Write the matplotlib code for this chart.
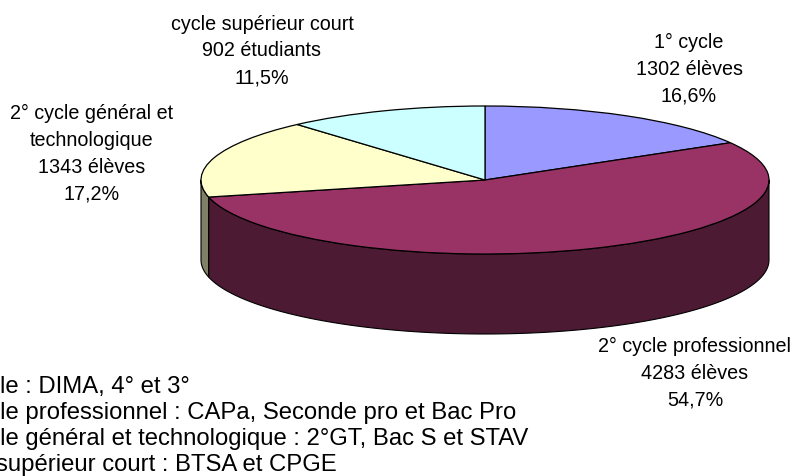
import numpy as np
import matplotlib
matplotlib.use("Agg")
import matplotlib.pyplot as plt

plt.rcParams['font.family'] = ['Liberation Sans', 'DejaVu Sans']

# Data
categories = ["1° cycle", "2° cycle professionnel", "2° cycle général et\ntechnologique", "cycle supérieur court"]
counts = ["1302 élèves", "4283 élèves", "1343 élèves", "902 étudiants"]
shares = [16.6, 54.7, 17.2, 11.5]
share_labels = ["16,6%", "54,7%", "17,2%", "11,5%"]
top_colors = ["#9999FF", "#993366", "#FFFFCC", "#CCFFFF"]
side_colors = ["#4C4C80", "#4C1A33", "#808066", "#668080"]
notes = ["1° cycle : DIMA, 4° et 3°",
         "2° cycle professionnel : CAPa, Seconde pro et Bac Pro",
         "2° cycle général et technologique : 2°GT, Bac S et STAV",
         "cycle supérieur court : BTSA et CPGE"]

W, H = 796, 476
fig = plt.figure(figsize=(W/100, H/100), dpi=100)

# Pie axes spans the ellipse of the top face (pixel box)
cx, cy, a, b = 485, 180, 284, 74
depth = 2 * 80 / (2 * b)   # wall height in data units
ax = fig.add_axes([(cx-a)/W, 1-(cy+b)/H, 2*a/W, 2*b/H])
ax.set_xlim(-1, 1); ax.set_ylim(-1, 1); ax.axis('off')

# Side walls (visible front half only)
edges = np.cumsum([0] + shares) / sum(shares) * 2*np.pi
for i in range(len(shares)):
    t0, t1 = max(edges[i], np.pi/2), min(edges[i+1], 3*np.pi/2)
    if t1 <= t0:
        continue
    t = np.linspace(t0, t1, 200)
    x, y = np.sin(t), np.cos(t)
    ax.fill(np.r_[x, x[::-1]], np.r_[y, y[::-1]-depth], facecolor=side_colors[i],
            edgecolor='black', lw=0.8, clip_on=False, zorder=1, joinstyle='round')

# Top face
wedges, _ = ax.pie(shares, colors=top_colors, startangle=90, counterclock=False, radius=1,
                   wedgeprops=dict(edgecolor='black', linewidth=0.9))
for w in wedges:
    w.set_clip_on(False)
    w.set_zorder(2)
ax.set_aspect('auto')
ax.set_xlim(-1, 1); ax.set_ylim(-1, 1)

def px(x, y):
    return x / W, 1 - y / H

# Slice labels
label_pos = [(689, 69), (695, 373), (92, 154), (262, 51)]
for cat, cnt, sh, (x, y) in zip(categories, counts, share_labels, label_pos):
    fig.text(*px(x, y), f"{cat}\n{cnt}\n{sh}", ha='center', va='center', fontsize=14.2,
             linespacing=1.53, color='black')

# Footnotes, running off the left edge as in the reference
note_y = [387, 413, 439, 465]
for n, y in zip(notes, note_y):
    fig.text(*px(-65, y), n, ha='left', va='center', fontsize=17.2, color='black')

fig.savefig("out.png", dpi=100)
